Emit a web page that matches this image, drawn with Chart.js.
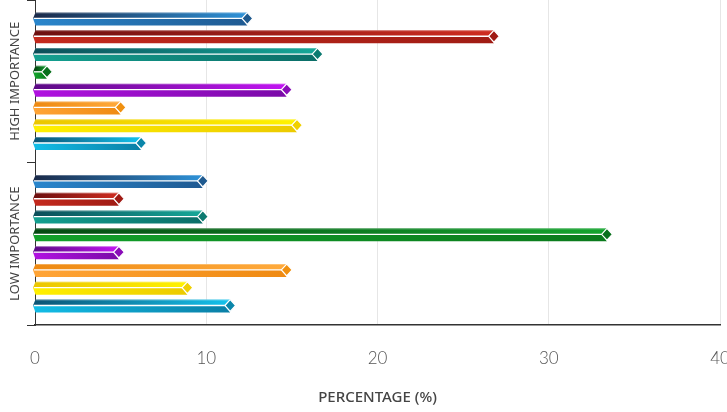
<!DOCTYPE html>
<html>
<head>
<meta charset="utf-8">
<style>
  html, body { margin: 0; padding: 0; background: #fff; }
  #wrap { width: 727px; height: 412px; position: relative; }
</style>
<script src="https://cdn.jsdelivr.net/npm/chart.js@4.4.0/dist/chart.umd.min.js"></script>
</head>
<body>
<div id="wrap"><canvas id="chart" width="727" height="412"></canvas></div>
<script>
// Categories shown on the vertical axis
const categories = ['HIGH IMPORTANCE', 'LOW IMPORTANCE'];

// One series per colour, top to bottom inside each category
const seriesNames = ['Group A', 'Group B', 'Group C', 'Group D', 'Group E', 'Group F', 'Group G', 'Group H'];

// Percentages per series for the high-importance category
const highImportance = [12.4, 26.8, 16.5, 0.7, 14.7, 5.0, 15.3, 6.2];
// Percentages per series for the low-importance category
const lowImportance = [9.8, 4.9, 9.8, 33.4, 4.9, 14.7, 8.9, 11.4];

// Horizontal axis ticks
const xTicks = [0, 10, 20, 30, 40];
const axisTitle = 'PERCENTAGE (%)';

// Prism colours: upper face gradient (dark to bright), lower face gradient (bright to deeper), end cap
const topFrom = ['#1b2b4a', '#6e1010', '#0b4f5a', '#054a12', '#5c0a85', '#ee8a12', '#ebc600', '#0b5576'];
const topTo   = ['#2e92d8', '#cf2c20', '#15a898', '#14a42e', '#c214f2', '#ffaa3c', '#fff200', '#14c2ec'];
const botFrom = ['#2a86cc', '#c42a1e', '#14a090', '#12a02a', '#b012e0', '#ffa436', '#fff000', '#12bce6'];
const botTo   = ['#1f5a92', '#a01c14', '#0b6e68', '#0a7a1c', '#7a0aa8', '#ef8a12', '#ecca00', '#0a7fa6'];
const capColor = ['#1f5a8f', '#a01a14', '#0b7a70', '#08701c', '#8a0cb8', '#f0900f', '#f0d000', '#0a86aa'];

// Draws one bar as a bevelled prism with a diamond end cap
function drawPrism(ctx, x0, x1, yc, h, i) {
  const top = yc - h / 2;
  const bot = yc + h / 2;
  const m = yc - h * 0.04;
  const hw = 5.4;
  const hh = h / 2 - 0.6;
  const xb = Math.max(x0, x1 - hw);
  const xl = x0 - 2.5;

  ctx.save();
  let g = ctx.createLinearGradient(x0, 0, Math.max(x1, x0 + 1), 0);
  g.addColorStop(0, topFrom[i]);
  g.addColorStop(1, topTo[i]);
  ctx.fillStyle = g;
  ctx.beginPath();
  ctx.moveTo(x0, top);
  ctx.lineTo(x1, top);
  ctx.lineTo(xb, m);
  ctx.lineTo(xl, m);
  ctx.closePath();
  ctx.fill();

  g = ctx.createLinearGradient(x0, 0, Math.max(x1, x0 + 1), 0);
  g.addColorStop(0, botFrom[i]);
  g.addColorStop(1, botTo[i]);
  ctx.fillStyle = g;
  ctx.beginPath();
  ctx.moveTo(xl, m);
  ctx.lineTo(xb, m);
  ctx.lineTo(x1, bot);
  ctx.lineTo(x0, bot);
  ctx.closePath();
  ctx.fill();

  // soft highlight on the upper edge
  ctx.strokeStyle = 'rgba(255,255,255,0.3)';
  ctx.lineWidth = 1;
  ctx.beginPath();
  ctx.moveTo(x0, top + 0.5);
  ctx.lineTo(x1 - 0.5, top + 0.5);
  ctx.stroke();

  // white ridge between the two faces
  ctx.strokeStyle = '#ffffff';
  ctx.lineWidth = 1.3;
  ctx.beginPath();
  ctx.moveTo(xl + 1, m);
  ctx.lineTo(xb, m);
  ctx.stroke();

  // diamond end cap
  ctx.fillStyle = capColor[i];
  ctx.beginPath();
  ctx.moveTo(xb, m);
  ctx.lineTo(x1, m - hh);
  ctx.lineTo(x1 + hw, m);
  ctx.lineTo(x1, m + hh);
  ctx.closePath();
  ctx.fill();
  ctx.strokeStyle = '#ffffff';
  ctx.lineWidth = 1.2;
  ctx.stroke();
  ctx.restore();
}

const prismBars = {
  id: 'prismBars',
  afterDatasetsDraw(chart) {
    const ctx = chart.ctx;
    chart.data.datasets.forEach((ds, i) => {
      const meta = chart.getDatasetMeta(i);
      if (meta.hidden) return;
      meta.data.forEach(bar => {
        const p = bar.getProps(['x', 'y', 'base', 'height'], true);
        drawPrism(ctx, p.base, p.x, p.y, p.height, i);
      });
    });
  }
};

// Rotated category names beside the vertical axis
const categoryLabels = {
  id: 'categoryLabels',
  afterDraw(chart) {
    const ys = chart.scales.y;
    const ctx = chart.ctx;
    ctx.save();
    ctx.fillStyle = '#444';
    ctx.font = '13px "Noto Sans"';
    ctx.textAlign = 'center';
    ctx.textBaseline = 'middle';
    categories.forEach((c, i) => {
      const y = ys.getPixelForValue(i);
      ctx.save();
      ctx.translate(ys.left + 15, y);
      ctx.rotate(-Math.PI / 2);
      ctx.fillText(c, 0, 0);
      ctx.restore();
    });
    ctx.restore();
  }
};

const datasets = seriesNames.map((name, i) => ({
  label: name,
  data: [highImportance[i], lowImportance[i]],
  backgroundColor: 'rgba(0,0,0,0)',
  borderWidth: 0,
  categoryPercentage: 0.876,
  barPercentage: 0.73
}));

new Chart(document.getElementById('chart'), {
  type: 'bar',
  data: { labels: categories, datasets },
  plugins: [prismBars, categoryLabels],
  options: {
    indexAxis: 'y',
    responsive: false,
    animation: false,
    devicePixelRatio: 1,
    layout: { padding: { top: 0, right: 7, bottom: 0, left: 0 } },
    plugins: { legend: { display: false }, tooltip: { enabled: false } },
    scales: {
      x: {
        type: 'linear',
        min: xTicks[0],
        max: xTicks[xTicks.length - 1],
        afterBuildTicks(scale) { scale.ticks = xTicks.map(v => ({ value: v })); },
        ticks: {
          color: '#555',
          font: { family: 'Lato', size: 17, weight: '300' },
          padding: 23
        },
        grid: { color: '#e6e6e6', drawTicks: false, lineWidth: 1 },
        border: { display: true, color: '#333', width: 1.5 },
        title: {
          display: true,
          text: axisTitle,
          color: '#444',
          font: { family: 'Noto Sans', size: 15, weight: '500' },
          padding: { top: 4, bottom: 5 }
        },
        afterFit(scale) {
          scale.height = 87;
          scale.paddingLeft = 0;
          scale.paddingRight = 0;
        }
      },
      y: {
        type: 'category',
        grid: { display: true, drawOnChartArea: false, tickLength: 8, color: '#333', offset: true },
        border: { display: true, color: '#333', width: 1 },
        ticks: { display: false },
        afterFit(scale) { scale.width = 35; }
      }
    }
  }
});
</script>
</body>
</html>
